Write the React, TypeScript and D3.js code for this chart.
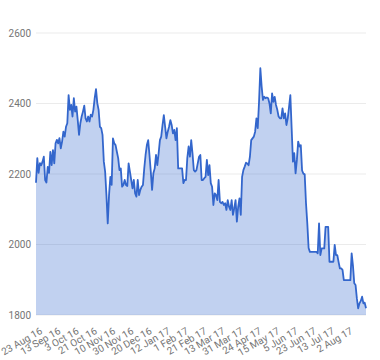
import React from "react";
import * as d3 from "d3";

const tickLabels = [
  "23 Aug 16", "13 Sep 16", "3 Oct 16", "21 Oct 16", "10 Nov 16", "30 Nov 16",
  "20 Dec 16", "12 Jan 17", "1 Feb 17", "21 Feb 17", "13 Mar 17", "31 Mar 17",
  "24 Apr 17", "15 May 17", "5 Jun 17", "23 Jun 17", "13 Jul 17", "2 Aug 17",
];
const tickStep = 14;
const yTicks = [1800, 2000, 2200, 2400, 2600];

const prices = [
  2175, 2245, 2203, 2231, 2225, 2235, 2249, 2183, 2176, 2220, 2203, 2263, 2225, 2268, 2230, 2287,
  2297, 2287, 2302, 2273, 2292, 2320, 2306, 2334, 2344, 2424, 2382, 2396, 2363, 2415, 2377, 2391,
  2353, 2311, 2344, 2363, 2377, 2394, 2358, 2349, 2363, 2349, 2368, 2363, 2382, 2415, 2441, 2401,
  2382, 2334, 2330, 2311, 2235, 2207, 2140, 2060, 2140, 2192, 2169, 2301, 2287, 2282, 2263,
  2245, 2211, 2216, 2164, 2169, 2183, 2169, 2166, 2230, 2207, 2183, 2159, 2183, 2145, 2136, 2183,
  2140, 2155, 2164, 2169, 2216, 2254, 2282, 2296, 2254, 2207, 2155, 2202, 2216, 2254, 2225, 2258,
  2296, 2306, 2339, 2367, 2334, 2301, 2320, 2334, 2353, 2339, 2315, 2325, 2296, 2330, 2216, 2216,
  2216, 2216, 2174, 2183, 2183, 2245, 2278, 2249, 2296, 2258, 2211, 2207, 2211, 2230, 2249,
  2254, 2183, 2183, 2188, 2192, 2240, 2197, 2225, 2174, 2164, 2112, 2145, 2140, 2126, 2183, 2121,
  2117, 2121, 2112, 2117, 2098, 2126, 2107, 2098, 2126, 2084, 2103, 2126, 2065, 2107, 2131, 2084,
  2192, 2211, 2221, 2232, 2230, 2225, 2249, 2296, 2301, 2306, 2320, 2358, 2330, 2405, 2500, 2448,
  2410, 2419, 2415, 2417, 2415, 2400, 2372, 2429, 2405, 2419, 2396, 2382, 2363, 2358, 2358, 2386,
  2358,
  2372, 2339, 2358, 2390, 2424, 2330, 2235, 2259, 2202, 2240, 2292, 2278, 2282, 2210, 2201, 2199,
  2117, 2060, 1990, 1979, 1979, 1979, 1979, 1979, 1979, 1975, 2060, 1970, 1989, 1989, 1989, 2050,
  2050, 2050, 1951, 1951, 1951, 1951, 1999, 1970, 1970, 1950, 1932, 1932, 1928, 1899, 1899, 1899,
  1899, 1899, 1899, 1975, 1940, 1890, 1885, 1847, 1819, 1833, 1840, 1852, 1833, 1835, 1819,
];

const W = 380;
const H = 360;
const left = 36;
const right = 366;
const top = 33;
const bottom = 315;
const font = "Roboto, Arial, sans-serif";

export default function App() {
  const x = d3.scaleLinear().domain([0, prices.length - 1]).range([left, right]);
  const y = d3.scaleLinear().domain([1800, 2600]).range([bottom, top]);
  const line = d3.line<number>().x((_, i) => x(i)).y((d) => y(d));
  const area = d3
    .area<number>()
    .x((_, i) => x(i))
    .y0(y(1800))
    .y1((d) => y(d));

  return (
    <svg
      width={W}
      height={H}
      style={{ position: "absolute", left: 0, top: 0, background: "#fff" }}
    >
      {yTicks.map((t) => (
        <g key={t}>
          <line x1={left} x2={right} y1={y(t)} y2={y(t)} stroke="#ebebeb" strokeWidth={1} />
          <text
            x={31}
            y={y(t)}
            textAnchor="end"
            dominantBaseline="central"
            fontFamily={font}
            fontSize={10}
            fill="#757575"
          >
            {t}
          </text>
        </g>
      ))}
      <path d={area(prices) || ""} fill="#3366cc" fillOpacity={0.3} />
      <path d={line(prices) || ""} fill="none" stroke="#3366cc" strokeWidth={1.8} strokeLinejoin="round" />
      {tickLabels.map((lab, k) => {
        const tx = x(k * tickStep);
        return (
          <text
            key={lab}
            transform={`translate(${tx + 7},${333}) rotate(-30)`}
            textAnchor="end"
            fontFamily={font}
            fontSize={10}
            fill="#757575"
          >
            {lab}
          </text>
        );
      })}
    </svg>
  );
}
